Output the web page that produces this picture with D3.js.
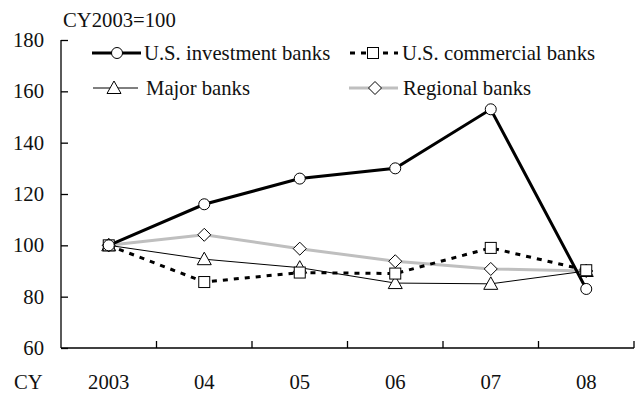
<!DOCTYPE html>
<html>
<head>
<meta charset="utf-8">
<script src="https://cdn.jsdelivr.net/npm/d3@7"></script>
<style>
  html, body { margin: 0; padding: 0; background: #fff; }
  svg { display: block; }
  text { font-family: "Liberation Serif", "Times New Roman", serif; fill: #111; }
</style>
</head>
<body>
<svg id="chart" width="643" height="394"></svg>
<script>
// Calendar years (2003 = 100 index)
const years = ["2003", "04", "05", "06", "07", "08"];
const yTicks = [60, 80, 100, 120, 140, 160, 180];

const usInvestment = [100, 116, 126, 130, 153, 83];
const usCommercial = [100, 85.7, 89.4, 89, 99, 90.3];
const majorBanks   = [100, 94.6, 91.3, 85.3, 85, 90];
const regionalBanks = [100, 104.1, 98.7, 93.8, 90.8, 90];

const seriesNames = ["U.S. investment banks", "U.S. commercial banks", "Major banks", "Regional banks"];

const svg = d3.select("#chart");
const fontSize = 20.7;

const x = d3.scaleBand().domain(years).range([61, 634]);
const y = d3.scaleLinear().domain([60, 180]).range([348, 40]);

const styles = [
  { values: usInvestment, stroke: "#000", width: 3, dash: null, marker: "circle" },
  { values: usCommercial, stroke: "#000", width: 3, dash: "5,6", marker: "square" },
  { values: majorBanks, stroke: "#000", width: 1, dash: null, marker: "triangle" },
  { values: regionalBanks, stroke: "#bfbfbf", width: 3, dash: null, marker: "diamond" }
];

// Y axis: ticks point inward
const yAxis = d3.axisRight(y).tickValues(yTicks).tickSize(7).tickFormat("");
const gy = svg.append("g").attr("transform", "translate(61,0)").call(yAxis);
gy.select(".domain").attr("d", `M0,${y(180)}V${y(60)}`).attr("stroke", "#000").attr("stroke-width", 1.3);
gy.selectAll(".tick line").attr("stroke", "#000").attr("stroke-width", 1.3);

svg.append("g").selectAll("text").data(yTicks).join("text")
  .attr("x", 44).attr("y", d => y(d) + 7)
  .attr("text-anchor", "end").attr("font-size", fontSize)
  .text(d => d);

// X axis: ticks at category boundaries, pointing up
const boundaries = years.slice(1).map(d => x(d)).concat([x.range()[1]]);
const gx = svg.append("g");
gx.append("line").attr("x1", 61).attr("x2", 634).attr("y1", y(60)).attr("y2", y(60))
  .attr("stroke", "#000").attr("stroke-width", 1.3);
gx.selectAll(".xt").data(boundaries).join("line")
  .attr("x1", d => d).attr("x2", d => d)
  .attr("y1", y(60)).attr("y2", y(60) - 7)
  .attr("stroke", "#000").attr("stroke-width", 1.3);

svg.append("g").selectAll("text").data(years).join("text")
  .attr("x", d => x(d) + x.bandwidth() / 2).attr("y", 389)
  .attr("text-anchor", "middle").attr("font-size", fontSize)
  .text(d => d);
svg.append("text").attr("x", 14).attr("y", 389).attr("font-size", fontSize).text("CY");

svg.append("text").attr("x", 63).attr("y", 27).attr("font-size", fontSize).text("CY2003=100");

// Marker drawing
function drawMarker(g, type, cx, cy) {
  const common = sel => sel.attr("fill", "#fff").attr("stroke", "#000").attr("stroke-width", 1);
  if (type === "circle") {
    g.append("circle").attr("cx", cx).attr("cy", cy).attr("r", 5.5).call(common);
  } else if (type === "square") {
    g.append("rect").attr("x", cx - 5.5).attr("y", cy - 5.5).attr("width", 11).attr("height", 11).call(common);
  } else if (type === "triangle") {
    g.append("path").attr("d", `M${cx},${cy - 7}L${cx + 7},${cy + 5.5}L${cx - 7},${cy + 5.5}Z`).call(common);
  } else if (type === "diamond") {
    g.append("path").attr("d", `M${cx},${cy - 6.5}L${cx + 6.5},${cy}L${cx},${cy + 6.5}L${cx - 6.5},${cy}Z`).call(common);
  }
}

const cx = d => x(d) + x.bandwidth() / 2;
const line = d3.line().x((v, i) => cx(years[i])).y(v => y(v));

// Draw series lines (bottom to top: regional, major, commercial, investment)
const order = [3, 2, 1, 0];
order.forEach(k => {
  const s = styles[k];
  svg.append("path").datum(s.values).attr("d", line)
    .attr("fill", "none").attr("stroke", s.stroke).attr("stroke-width", s.width)
    .attr("stroke-dasharray", s.dash);
});
order.forEach(k => {
  const s = styles[k];
  const g = svg.append("g");
  s.values.forEach((v, i) => drawMarker(g, s.marker, cx(years[i]), y(v)));
});

// Legend
const legendItems = [
  { k: 0, x1: 92, x2: 141, mx: 117, tx: 144, ty: 53 },
  { k: 1, x1: 350, x2: 398, mx: 373, tx: 402, ty: 53 },
  { k: 2, x1: 93, x2: 138, mx: 114, tx: 146, ty: 88 },
  { k: 3, x1: 349, x2: 398, mx: 375, tx: 403, ty: 88 }
];
const lg = svg.append("g");
legendItems.forEach(it => {
  const s = styles[it.k];
  lg.append("line").attr("x1", it.x1).attr("x2", it.x2).attr("y1", it.ty).attr("y2", it.ty)
    .attr("stroke", s.stroke).attr("stroke-width", s.width).attr("stroke-dasharray", s.dash);
  drawMarker(lg, s.marker, it.mx, it.ty);
  lg.append("text").attr("x", it.tx).attr("y", it.ty + 7).attr("font-size", fontSize).text(seriesNames[it.k]);
});
</script>
</body>
</html>
